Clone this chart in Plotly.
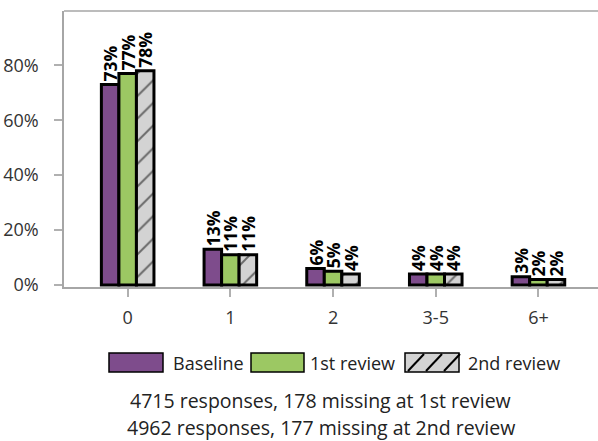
import plotly.graph_objects as go

categories = ["0", "1", "2", "3-5", "6+"]
baseline = [73, 13, 6, 4, 3]
review1 = [77, 11, 5, 4, 2]
review2 = [78, 11, 4, 4, 2]
series_names = ["Baseline", "1st review", "2nd review"]
footnotes = ["4715 responses, 178 missing at 1st review",
             "4962 responses, 177 missing at 2nd review"]
y_ticks = [0, 20, 40, 60, 80]

W, H = 598, 441
L, R, T, B = 64, 0, 11, 154
PW = W - L - R
PH = H - T - B

PURPLE = "#7E4C8C"
GREEN = "#9CC863"
GRAY = "#D3D3D3"
FONT = "Open Sans"


def px(x):
    return (x - L) / PW


def py(y):
    return (H - B - y) / PH


fig = go.Figure()
label_font = dict(family=FONT, size=17.5, color="black", weight="bold")
for name, vals, color, pat in [
    (series_names[0], baseline, PURPLE, None),
    (series_names[1], review1, GREEN, None),
    (series_names[2], review2, GRAY, "/"),
]:
    marker = dict(color=color, line=dict(color="black", width=3))
    if pat:
        marker["pattern"] = dict(shape=pat, fgcolor="black", bgcolor=GRAY,
                                 size=16, solidity=0.12, fillmode="overlay")
    fig.add_trace(go.Bar(
        x=categories, y=vals, name=name, marker=marker,
        text=[f"{v}%" for v in vals], textposition="outside",
        textangle=-90, textfont=label_font, cliponaxis=False,
        constraintext="none", showlegend=False,
    ))

shapes = []
shapes.append(dict(type="line", xref="paper", yref="paper", x0=0, x1=1, y0=1, y1=1,
                   line=dict(color="#a6a6a6", width=1.5)))

legend_items = [
    (109, 163, 171, series_names[0], PURPLE, False),
    (251, 304, 308, series_names[1], GREEN, False),
    (405, 459, 466, series_names[2], GRAY, True),
]
y0s, y1s = 353, 372
annotations = []
for x0, x1, tx, name, color, hatch in legend_items:
    shapes.append(dict(type="rect", xref="paper", yref="paper",
                       x0=px(x0), x1=px(x1), y0=py(y1s), y1=py(y0s),
                       fillcolor=color, line=dict(color="black", width=1.5)))
    if hatch:
        n = 3
        step = (x1 - x0) / n
        for i in range(n):
            shapes.append(dict(type="line", xref="paper", yref="paper",
                               x0=px(x0 + i * step + 3), y0=py(y1s - 1),
                               x1=px(x0 + (i + 1) * step + 1), y1=py(y0s + 1),
                               line=dict(color="black", width=2)))
    annotations.append(dict(xref="paper", yref="paper", x=px(tx), y=py((y0s + y1s) / 2),
                            text=name, showarrow=False, xanchor="left", yanchor="middle",
                            font=dict(family=FONT, size=18, color="#222")))

for txt, yy in zip(footnotes, [400, 427.5]):
    annotations.append(dict(xref="paper", yref="paper", x=px(320.5), y=py(yy),
                            text=txt, showarrow=False, xanchor="center", yanchor="middle",
                            font=dict(family=FONT, size=19.5, color="#222")))

fig.update_layout(
    width=W, height=H,
    margin=dict(l=L, r=R, t=T, b=B, autoexpand=False),
    plot_bgcolor="white", paper_bgcolor="white",
    barmode="group", bargap=0.488, bargroupgap=0,
    showlegend=False,
    font=dict(family=FONT, color="#333"),
    shapes=shapes, annotations=annotations,
    xaxis=dict(range=[-0.62, 4.58], showline=True, linecolor="#a6a6a6", linewidth=1.5,
               ticks="outside", ticklen=8, tickcolor="#b0b0b0", tickwidth=1.5,
               ticklabelstandoff=6,
               tickfont=dict(family=FONT, size=18, color="#333"), showgrid=False,
               fixedrange=True, automargin=False),
    yaxis=dict(range=[-0.73, 99.75], showline=True, linecolor="#a6a6a6", linewidth=1.5,
               ticks="outside", ticklen=8, tickcolor="#b0b0b0", tickwidth=1.5,
               ticklabelstandoff=12,
               tickvals=y_ticks, ticktext=[f"{v}%" for v in y_ticks],
               tickfont=dict(family=FONT, size=18, color="#333"), showgrid=False,
               zeroline=False, fixedrange=True, automargin=False),
)

fig.write_html("out.html", config={"displayModeBar": False},
               post_script="document.body.style.margin='0';document.body.style.padding='0';")
